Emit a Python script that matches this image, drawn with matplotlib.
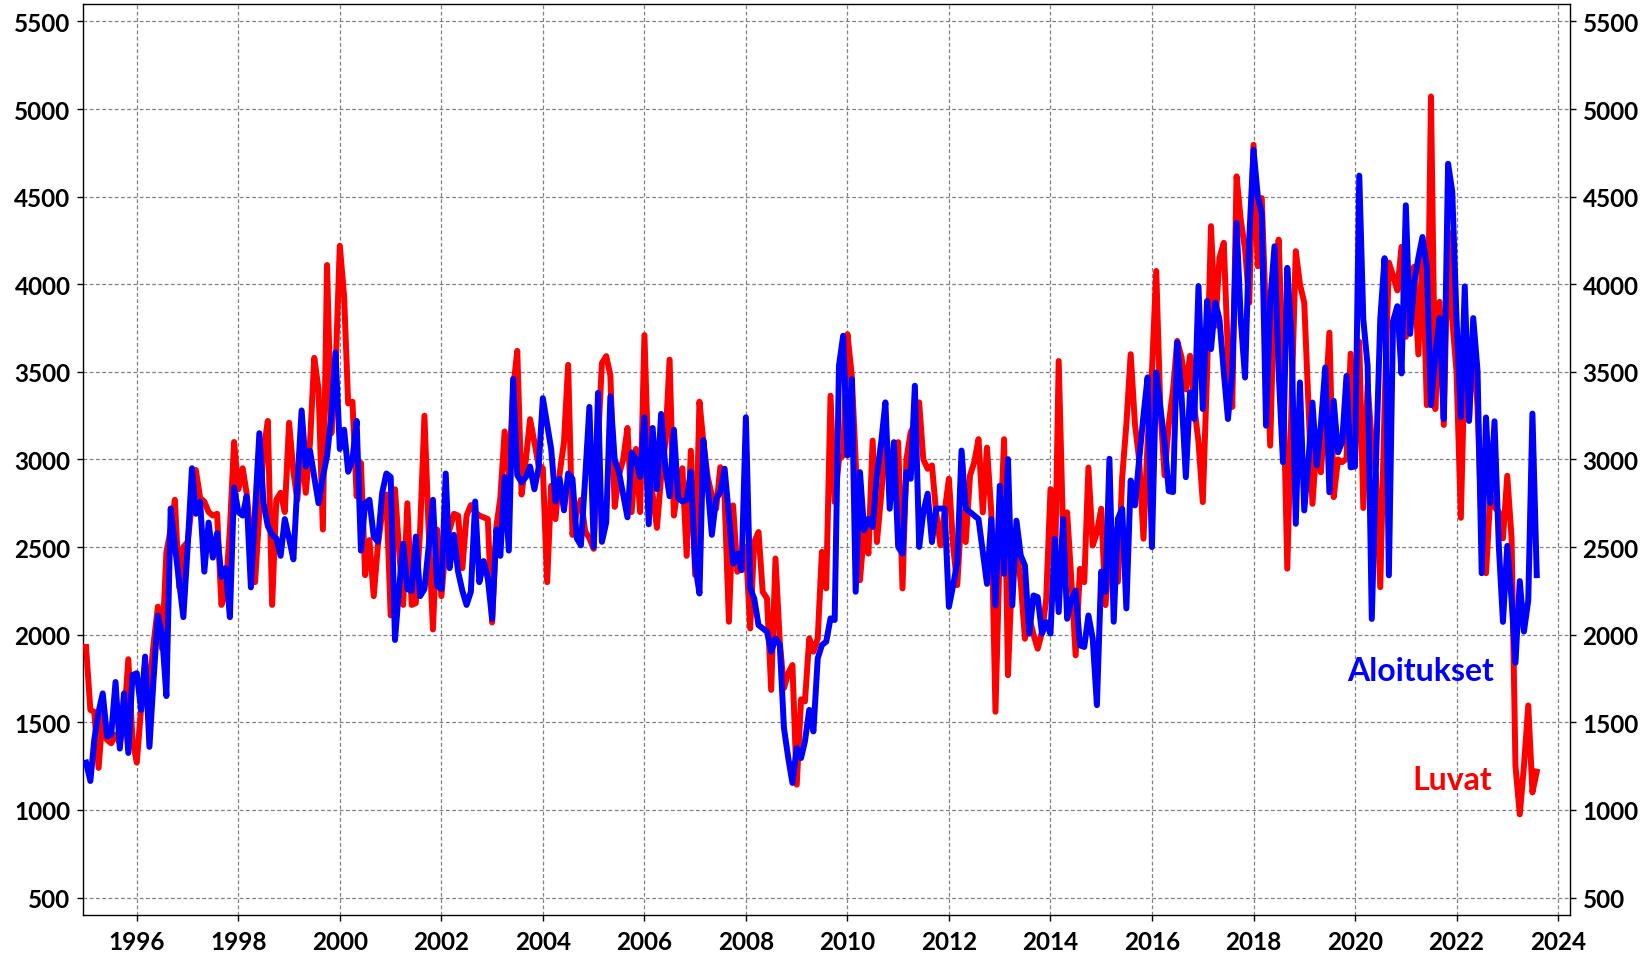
import numpy as np
import pandas as pd
import matplotlib
matplotlib.use("Agg")
import matplotlib.pyplot as plt

# Monthly values, Jan 1995 .. Aug 2023
luvat = [
    1930, 1570, 1560, 1240, 1540, 1400, 1380, 1430, 1380, 1500, 1860, 1400,  # 1995
    1270, 1580, 1830, 1700, 1950, 2160, 1920, 2470, 2600, 2770, 2270, 2500,  # 1996
    2530, 2750, 2940, 2780, 2760, 2700, 2680, 2690, 2170, 2240, 2600, 3100,  # 1997
    2830, 2950, 2810, 2550, 2300, 2700, 3050, 3220, 2170, 2770, 2810, 2700,  # 1998
    3210, 2930, 2770, 3080, 2810, 3100, 3580, 3400, 2600, 4110, 3150, 3500,  # 1999
    4220, 3930, 3320, 3330, 2790, 2980, 2340, 2540, 2220, 2510, 2700, 2800,  # 2000
    2110, 2830, 2500, 2170, 2750, 2170, 2180, 2600, 3250, 2600, 2030, 2600,  # 2001
    2220, 2510, 2600, 2690, 2680, 2380, 2680, 2740, 2700, 2680, 2670, 2660,  # 2002
    2070, 2620, 2780, 3160, 2900, 3400, 3620, 2800, 3000, 3230, 3100, 2970,  # 2003
    2950, 2300, 2850, 2660, 2920, 3100, 3540, 2570, 2700, 2770, 2590, 2550,  # 2004
    2490, 3100, 3550, 3590, 3480, 2730, 2910, 3000, 3180, 2700, 3060, 2700,  # 2005
    3710, 2910, 2800, 2610, 2900, 3100, 3570, 2680, 2850, 2950, 2450, 3050,  # 2006
    2340, 3330, 3100, 2900, 2795, 2719, 2956, 2780, 2074, 2738, 2359, 2450,  # 2007
    2500, 2036, 2529, 2586, 2245, 2207, 1685, 2435, 1960, 1695, 1780, 1827,  # 2008
    1144, 1631, 1619, 1979, 1903, 1979, 2473, 2264, 3364, 2757, 3000, 3023,  # 2009
    3715, 3478, 3000, 2311, 2600, 2463, 3108, 2529, 2800, 3100, 2950, 3050,  # 2010
    3099, 2264, 3000, 3156, 3200, 3326, 3000, 2947, 2966, 2700, 2510, 2700,  # 2011
    2890, 2500, 2283, 2700, 2529, 2909, 2983, 3116, 2698, 3068, 2698, 1560,  # 2012
    2500, 3116, 1769, 2400, 2500, 2300, 1977, 2100, 2000, 1920, 2015, 2200,  # 2013
    2831, 2300, 3562, 2600, 2698, 2300, 1882, 2376, 2300, 2954, 2509, 2584,  # 2014
    2719, 2169, 2500, 2600, 2302, 2900, 3200, 3601, 3200, 3000, 2548, 3100,  # 2015
    3500, 4076, 3300, 2909, 3200, 3400, 3677, 3583, 3400, 3592, 3300, 3100,  # 2016
    2757, 3500, 4332, 3763, 4150, 4237, 3600, 3300, 4616, 4369, 4200, 3895,  # 2017
    4796, 4103, 4492, 3800, 3079, 4000, 4255, 3500, 2377, 3300, 4189, 4000,  # 2018
    3895, 3300, 2747, 3100, 2927, 3300, 3724, 2785, 3000, 2985, 3005, 3604,  # 2019
    2994, 3672, 2723, 3423, 3100, 2900, 2271, 3300, 4124, 4050, 3965, 4214,  # 2020
    3700, 4000, 4100, 3600, 4200, 3310, 5072, 3288, 3900, 3197, 4300, 3800,  # 2021
    3500, 2667, 3580, 3230, 3700, 3300, 2600, 2351, 2796, 2729, 2700, 2550,  # 2022
    2907, 2551, 1250, 975, 1250, 1596, 1100, 1218,                            # 2023
]

aloitukset = [
    1270, 1165, 1400, 1560, 1665, 1420, 1430, 1730, 1350, 1665, 1325, 1770,  # 1995
    1780, 1570, 1875, 1360, 1750, 2110, 2000, 1650, 2720, 2510, 2300, 2100,  # 1996
    2500, 2950, 2690, 2760, 2360, 2640, 2440, 2580, 2330, 2380, 2100, 2840,  # 1997
    2700, 2680, 2790, 2270, 2700, 3150, 2750, 2620, 2570, 2550, 2450, 2660,  # 1998
    2550, 2430, 2850, 3280, 2960, 3050, 2900, 2750, 2900, 3020, 3250, 3610,  # 1999
    3060, 3170, 2930, 3000, 3220, 2480, 2750, 2770, 2560, 2530, 2810, 2920,  # 2000
    2900, 1970, 2250, 2520, 2260, 2250, 2560, 2220, 2260, 2500, 2770, 2280,  # 2001
    2260, 2920, 2380, 2570, 2360, 2250, 2170, 2245, 2760, 2300, 2420, 2320,  # 2002
    2090, 2600, 2450, 2900, 2480, 3460, 2910, 2870, 2900, 2960, 2830, 2950,  # 2003
    3350, 3200, 3060, 2760, 2890, 2710, 2920, 2890, 2550, 2510, 2900, 3300,  # 2004
    2500, 3380, 2530, 2640, 3360, 3000, 2930, 2800, 2670, 3040, 3000, 2900,  # 2005
    3240, 2630, 3180, 2830, 3260, 2950, 2790, 3170, 2780, 2760, 2770, 2930,  # 2006
    2400, 2235, 3110, 2850, 2570, 2776, 2814, 2947, 2681, 2406, 2463, 2368,  # 2007
    3241, 2264, 2207, 2055, 2036, 2017, 1903, 1979, 1941, 1467, 1296, 1154,  # 2008
    1353, 1296, 1391, 1571, 1448, 1865, 1941, 1960, 2093, 2084, 3535, 3706,  # 2009
    3023, 3459, 2245, 2928, 2596, 2662, 2615, 2909, 3100, 3326, 2719, 3099,  # 2010
    2501, 2463, 2928, 2890, 3421, 2501, 2700, 2805, 2529, 2719, 2720, 2719,  # 2011
    2159, 2283, 2416, 3051, 2719, 2700, 2680, 2660, 2470, 2290, 2660, 2167,  # 2012
    2850, 2347, 3002, 2167, 2651, 2452, 2395, 2006, 2224, 2214, 2006, 2072,  # 2013
    2006, 2547, 2129, 2660, 2091, 2200, 2252, 1939, 1930, 2110, 1977, 1598,  # 2014
    2360, 2245, 3004, 2074, 2662, 2719, 2150, 2880, 2738, 3000, 3250, 3469,  # 2015
    2500, 3497, 3300, 3099, 2820, 2814, 3668, 3364, 2899, 3383, 3231, 3990,  # 2016
    3288, 3905, 3630, 3895, 3800, 3500, 3231, 3500, 4350, 3800, 3468, 4255,  # 2017
    4768, 4500, 4407, 3193, 3900, 4217, 3500, 2984, 4094, 3700, 2633, 3440,  # 2018
    2709, 3000, 3325, 2966, 3200, 3525, 2813, 3335, 3041, 3100, 3477, 2955,  # 2019
    2960, 4620, 3800, 3536, 2090, 3000, 3800, 4149, 2339, 3790, 3875, 3491,  # 2020
    4451, 3717, 4000, 4150, 4270, 4100, 3310, 3600, 3807, 3231, 4688, 4530,  # 2021
    3800, 3242, 3988, 3220, 3807, 3507, 2351, 3240, 2751, 3218, 2507, 2073,  # 2022
    2507, 2200, 1840, 2306, 2018, 2196, 3262, 2340,                            # 2023
]

start_month = "1995-01-01"
yticks = list(range(500, 5501, 500))
xtick_years = list(range(1996, 2025, 2))
label_aloitukset = "Aloitukset"
label_luvat = "Luvat"

dates = pd.date_range(start_month, periods=len(luvat), freq="MS")

plt.rcParams['font.family'] = ['Lato', 'DejaVu Sans']

fig = plt.figure(figsize=(16.47, 9.54), dpi=100)
ax = fig.add_axes([0.0504, 0.0398, 0.9029, 0.955])

ax.plot(dates, luvat, color="#ff0000", lw=4.3, solid_joinstyle="round", zorder=3)
ax.plot(dates, aloitukset, color="#0000ff", lw=4.3, solid_joinstyle="round", zorder=4)

ax.set_ylim(400, 5600)
ax.set_yticks(yticks)
ax.set_xlim(pd.Timestamp("1994-12-10"), pd.Timestamp("2024-03-28"))
ax.set_xticks([pd.Timestamp(f"{y}-01-01") for y in xtick_years])
ax.set_xticklabels([str(y) for y in xtick_years])

ax.grid(True, color="#808080", linestyle=(0, (3, 2)), linewidth=0.9)
ax.set_axisbelow(True)

ax.tick_params(axis="both", labelsize=17.5, length=4, width=1, pad=5)
ax.tick_params(axis="x", pad=7)
ax.tick_params(axis="y", right=True, labelright=True)
for lab in ax.get_xticklabels() + ax.get_yticklabels():
    lab.set_fontweight("bold")
for t in ax.yaxis.get_major_ticks():
    t.label2.set_fontweight("bold")

for s in ax.spines.values():
    s.set_linewidth(1.0)
    s.set_color("black")

ax.text(pd.Timestamp("2021-04-15"), 1795, label_aloitukset, color="#0000ff",
        fontsize=23, fontweight="bold", ha="center", va="center", zorder=5)
ax.text(pd.Timestamp("2021-12-01"), 1175, label_luvat, color="#ff0000",
        fontsize=23, fontweight="bold", ha="center", va="center", zorder=5)

fig.savefig("out.png", dpi=100)
